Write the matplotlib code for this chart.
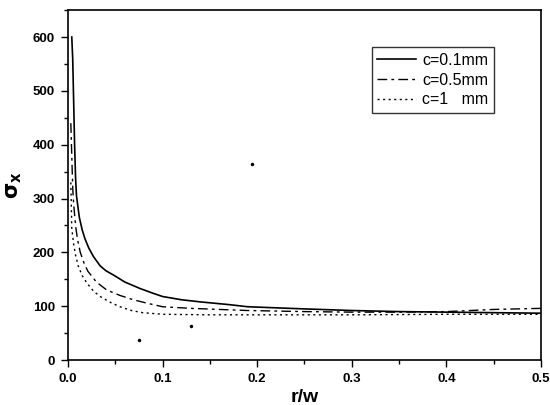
import matplotlib
matplotlib.use("Agg")
import matplotlib.pyplot as plt
from matplotlib.ticker import MultipleLocator

plt.rcParams['font.family'] = ['Liberation Sans', 'DejaVu Sans']

# c = 0.1 mm
c01_x = [0.004, 0.005, 0.006, 0.007, 0.008, 0.009, 0.012, 0.015, 0.018, 0.022, 0.027,
         0.034, 0.04, 0.048, 0.06, 0.076, 0.09, 0.1, 0.12, 0.14, 0.17, 0.19, 0.25,
         0.3, 0.35, 0.4, 0.45, 0.5]
c01_y = [600, 560, 480, 400, 340, 305, 265, 242, 225, 208, 192,
         175, 166, 158, 145, 133, 124, 118, 112, 108, 103, 99, 95,
         92, 90, 89, 88, 87]

# c = 0.5 mm
c05_x = [0.003, 0.004, 0.005, 0.006, 0.008, 0.01, 0.013, 0.017, 0.021, 0.03, 0.041,
         0.055, 0.069, 0.085, 0.1, 0.13, 0.19, 0.25, 0.3, 0.35, 0.4, 0.45, 0.5]
c05_y = [440, 380, 320, 290, 250, 225, 200, 180, 165, 145, 130,
         120, 112, 105, 99, 96, 92, 90, 89, 89, 90, 94, 96]

# c = 1 mm
c1_x = [0.003, 0.0035, 0.004, 0.006, 0.008, 0.011, 0.015, 0.02, 0.027, 0.034, 0.045,
        0.055, 0.067, 0.079, 0.1, 0.15, 0.2, 0.3, 0.4, 0.5]
c1_y = [330, 290, 245, 215, 195, 174, 157, 143, 128, 118, 107,
        99, 92, 88, 85, 84, 84, 84, 85, 85]

# stray specks in the scan
speck_x = [0.075, 0.13, 0.195]
speck_y = [38, 63, 365]

fig = plt.figure(figsize=(5.5, 4.05), dpi=100)
ax = fig.add_axes([0.1236, 0.111, 0.86, 0.864])

ax.plot(c01_x, c01_y, color='black', lw=1.2, ls='-', label='c=0.1mm')
ax.plot(c05_x, c05_y, color='black', lw=1.0, ls=(0, (7, 3, 2, 3)), label='c=0.5mm')
ax.plot(c1_x, c1_y, color='black', lw=1.0, ls=(0, (1.5, 2.5)), label='c=1   mm')
ax.plot(speck_x, speck_y, ls='none', marker='o', ms=1.5, color='black')

ax.set_xlim(0, 0.5)
ax.set_ylim(0, 650)
ax.xaxis.set_major_locator(MultipleLocator(0.1))
ax.xaxis.set_minor_locator(MultipleLocator(0.05))
ax.yaxis.set_major_locator(MultipleLocator(100))
ax.yaxis.set_minor_locator(MultipleLocator(50))
ax.xaxis.set_major_formatter(matplotlib.ticker.FormatStrFormatter('%.1f'))
ax.tick_params(which='major', direction='out', length=5, width=1, labelsize=9.5,
               pad=4.5, top=False, right=False)
ax.tick_params(which='minor', direction='out', length=3, width=1, top=False, right=False)
for lab in ax.get_xticklabels() + ax.get_yticklabels():
    lab.set_fontweight('bold')
for sp in ax.spines.values():
    sp.set_linewidth(1.2)

ax.set_xlabel('r/w', fontsize=14, fontweight='bold', labelpad=3)
ax.set_ylabel(r'$\mathbf{\sigma_x}$', fontsize=15, labelpad=6)

leg = ax.legend(loc='upper left', bbox_to_anchor=(0.642, 0.894), fontsize=11.5,
                frameon=True, fancybox=False, handlelength=2.4, handletextpad=0.4,
                borderpad=0.35, labelspacing=0.3, borderaxespad=0)
leg.get_frame().set_edgecolor('black')
leg.get_frame().set_linewidth(1.0)

fig.savefig('out.png', dpi=100)
